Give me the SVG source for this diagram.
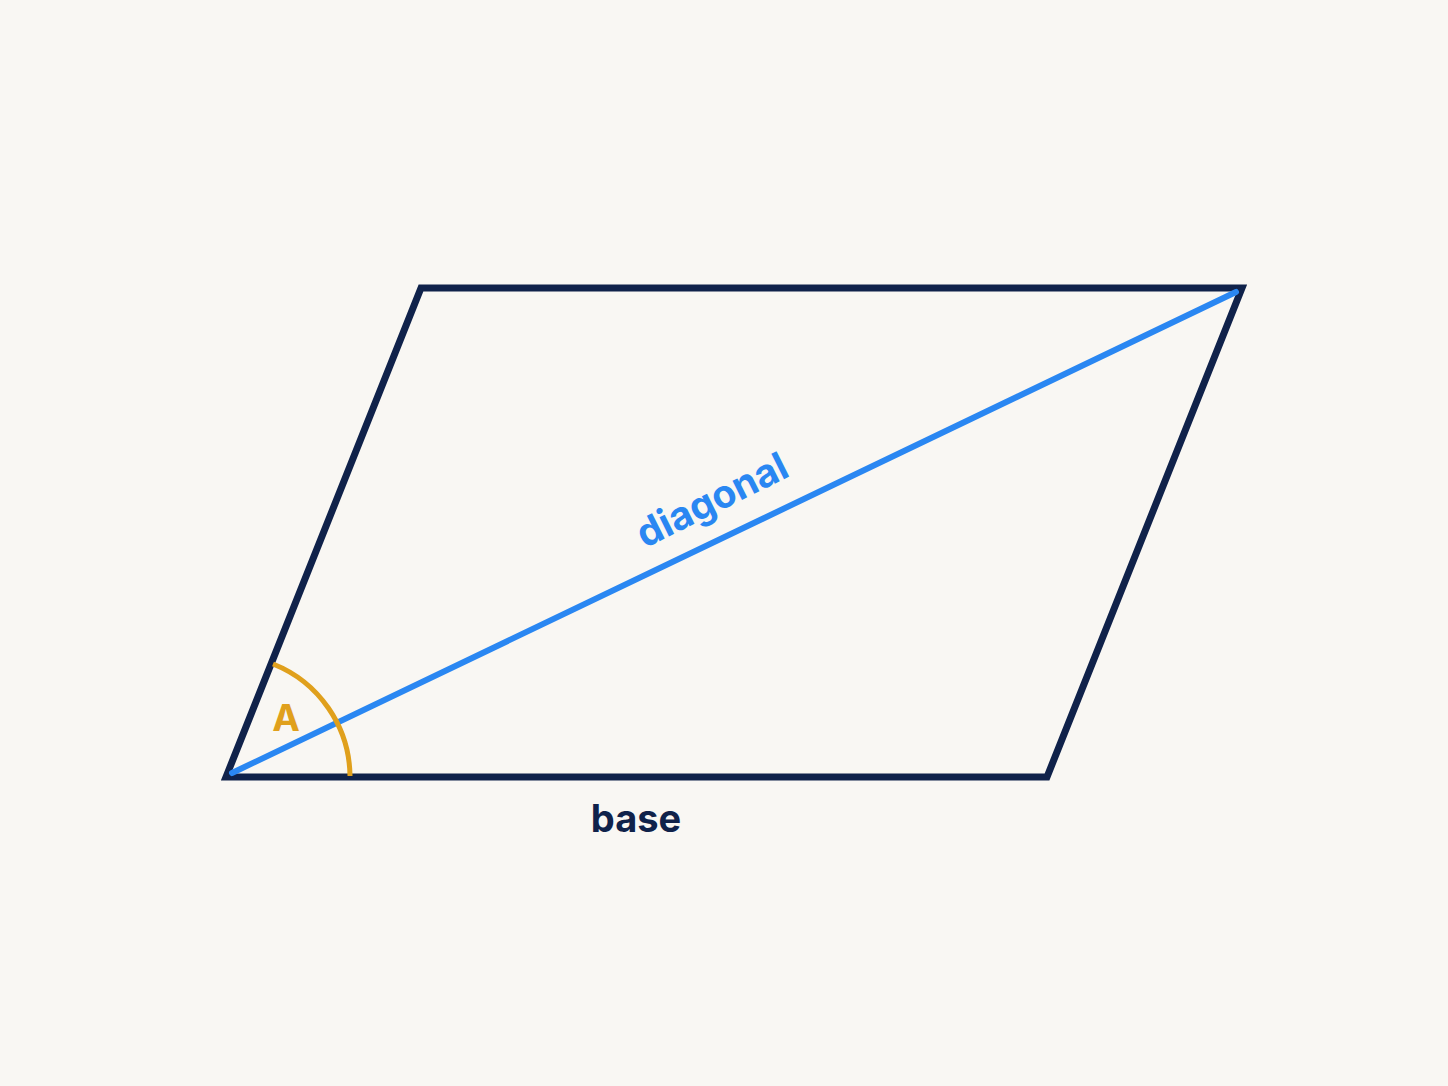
<svg xmlns="http://www.w3.org/2000/svg" width="1448" height="1086" viewBox="0 0 1448 1086">
<style>
.edge{fill:none;stroke:#10224a;stroke-width:7;stroke-linejoin:miter}
.diag{fill:none;stroke:#2a87f2;stroke-width:6;stroke-linecap:round}
.arc{fill:none;stroke:#e0a01c;stroke-width:5}
.lbl{font-family:Inter,"Liberation Sans",sans-serif;font-weight:700;text-anchor:middle}
</style>
<rect width="1448" height="1086" fill="#f9f7f3"/>
<g id="parallelogram">
<polygon class="edge" points="226,777 421,288 1242,288 1047,777"/>
</g>
<g id="connectors">
<line class="diag" x1="232" y1="773" x2="1236" y2="292"/>
</g>
<g id="angle-A">
<path class="arc" d="M273,664 A122,122 0 0 1 350,776"/>
<text class="lbl" x="286" y="731" font-size="37" fill="#e0a01c">A</text>
</g>
<g id="label-diagonal">
<text class="lbl" x="0" y="0" font-size="39" fill="#2a87f2" transform="translate(718,512) rotate(-26.5)">diagonal</text>
</g>
<g id="label-base">
<text class="lbl" x="636" y="832" font-size="38" fill="#10224a">base</text>
</g>
</svg>
